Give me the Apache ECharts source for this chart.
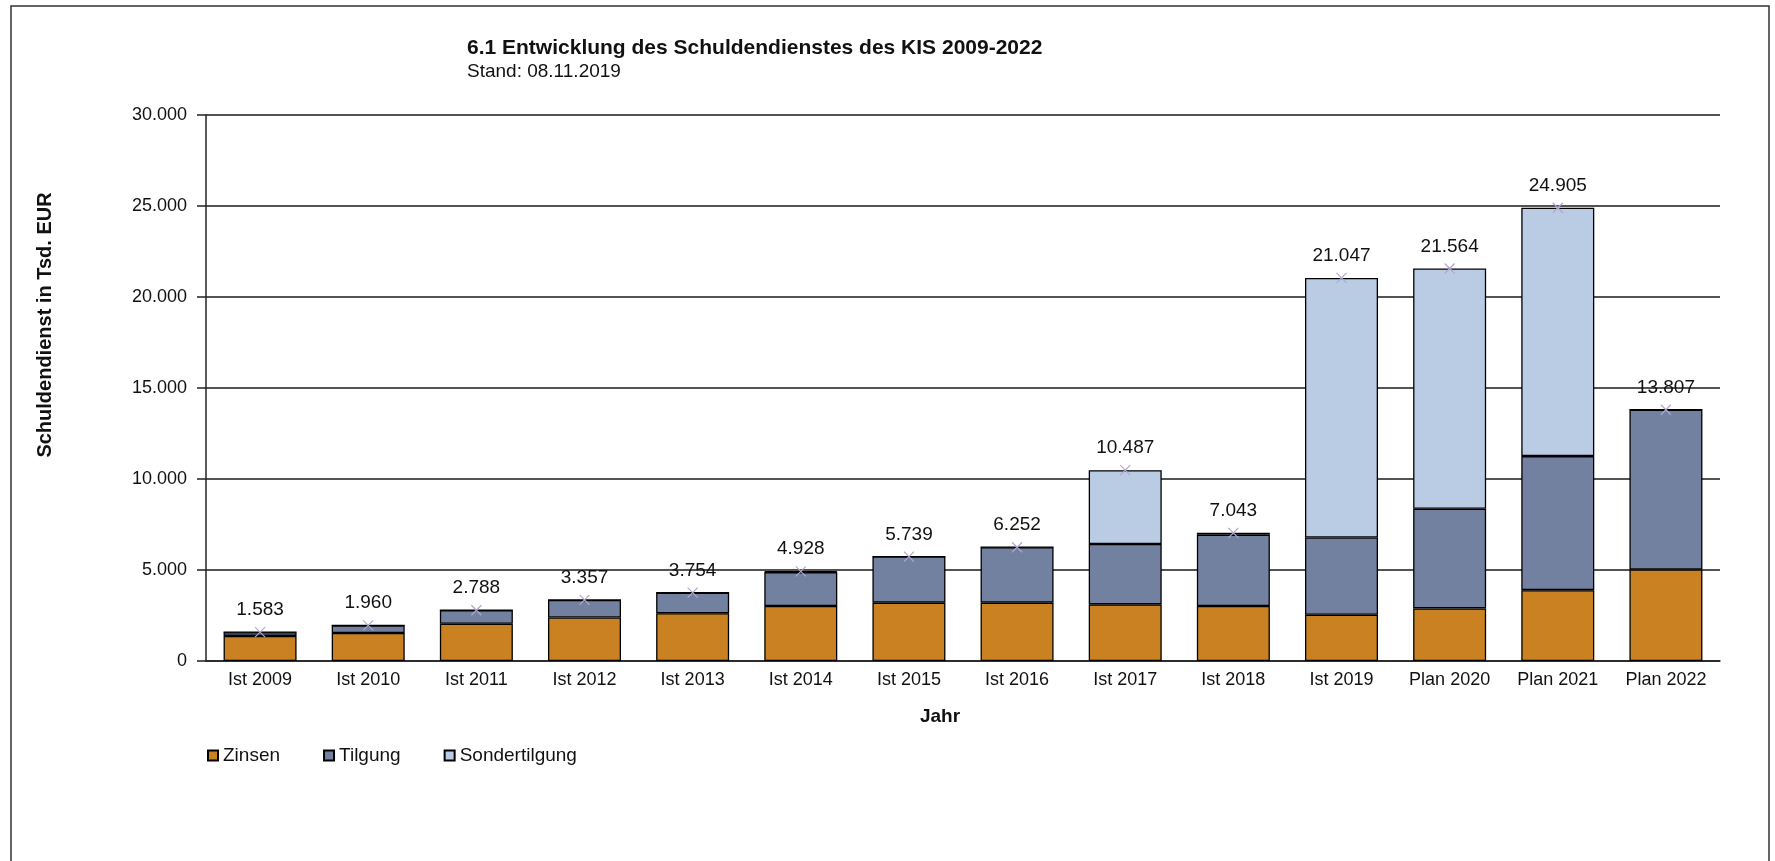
<!DOCTYPE html>
<html>
<head>
<meta charset="utf-8">
<script src="https://cdn.jsdelivr.net/npm/echarts@6/dist/echarts.min.js"></script>
<style>
    html, body { margin: 0; padding: 0; background: #fff; }
    #chart { width: 1775px; height: 861px; }
</style>
</head>
<body>
<div id="chart"></div>
<script>
var categories = ['Ist 2009', 'Ist 2010', 'Ist 2011', 'Ist 2012', 'Ist 2013', 'Ist 2014', 'Ist 2015',
    'Ist 2016', 'Ist 2017', 'Ist 2018', 'Ist 2019', 'Plan 2020', 'Plan 2021', 'Plan 2022'];
var zinsen = [1380, 1540, 2047, 2391, 2627, 3025, 3205, 3205, 3114, 3022, 2544, 2891, 3894, 5030];
var tilgung = [203, 420, 741, 966, 1127, 1860, 2534, 3047, 3315, 3921, 4241, 5474, 7363, 8777];
var sondertilgung = [0, 0, 0, 0, 0, 43, 0, 0, 4058, 100, 14262, 13199, 13648, 0];
var summe = [1583, 1960, 2788, 3357, 3754, 4928, 5739, 6252, 10487, 7043, 21047, 21564, 24905, 13807];

var FONT = '"Liberation Sans", Arial, sans-serif';

function fmt(v) {
    return String(v).replace(/\B(?=(\d{3})+(?!\d))/g, '.');
}

function barSeries(name, data, color) {
    return {
        name: name,
        type: 'bar',
        stack: 'gesamt',
        barWidth: '67.5%',
        data: data,
        itemStyle: {
            color: color,
            borderColor: '#000',
            borderWidth: 1.3
        }
    };
}

var chartDom = document.getElementById('chart');
var myChart = echarts.init(chartDom);
var option;

option = {
    animation: false,
    textStyle: { fontFamily: FONT },
    title: {
        text: '6.1 Entwicklung des Schuldendienstes des KIS 2009-2022',
        subtext: 'Stand: 08.11.2019',
        left: 467,
        top: 38,
        padding: 0,
        itemGap: 3,
        textStyle: { fontFamily: FONT, fontSize: 21, fontWeight: 'bold', color: '#111' },
        subtextStyle: { fontFamily: FONT, fontSize: 19, color: '#111' }
    },
    legend: {
        data: ['Zinsen', 'Tilgung', 'Sondertilgung'],
        left: 207,
        top: 746,
        padding: 0,
        icon: 'rect',
        itemWidth: 10,
        itemHeight: 10,
        itemGap: 43,
        textStyle: { fontFamily: FONT, fontSize: 19, color: '#111' }
    },
    grid: {
        left: 206,
        right: 55,
        top: 115,
        bottom: 200,
        containLabel: false
    },
    xAxis: {
        type: 'category',
        data: categories,
        axisLine: { lineStyle: { color: '#222', width: 1.5 } },
        axisTick: { length: 5, lineStyle: { color: '#222', width: 1.5 } },
        axisLabel: { fontFamily: FONT, fontSize: 18, color: '#111', margin: 10 }
    },
    yAxis: {
        type: 'value',
        min: 0,
        max: 30000,
        interval: 5000,
        axisLine: { show: true, lineStyle: { color: '#222', width: 1.5 } },
        axisTick: { show: true, length: 9, lineStyle: { color: '#222', width: 1.5 } },
        axisLabel: { fontFamily: FONT, fontSize: 18, color: '#111', margin: 19, formatter: fmt },
        splitLine: { lineStyle: { color: '#1a1a1a', width: 1.5 } }
    },
    graphic: [
        {
            type: 'rect',
            shape: { x: 11, y: 6, width: 1758, height: 900 },
            style: { fill: 'none', stroke: '#333', lineWidth: 1.5 },
            silent: true
        },
        {
            type: 'text',
            x: 45,
            y: 325,
            rotation: Math.PI / 2,
            style: {
                text: 'Schuldendienst in Tsd. EUR',
                fontFamily: FONT,
                fontSize: 20,
                fontWeight: 'bold',
                fill: '#111',
                textAlign: 'center',
                textVerticalAlign: 'middle'
            }
        },
        {
            type: 'text',
            x: 940,
            y: 717,
            style: {
                text: 'Jahr',
                fontFamily: FONT,
                fontSize: 19,
                fontWeight: 'bold',
                fill: '#111',
                textAlign: 'center',
                textVerticalAlign: 'middle'
            }
        }
    ],
    series: [
        barSeries('Zinsen', zinsen, '#c98121'),
        barSeries('Tilgung', tilgung, '#7281a0'),
        barSeries('Sondertilgung', sondertilgung, '#b9cce4'),
        {
            name: 'Summe',
            type: 'line',
            data: summe,
            z: 5,
            symbol: 'path://M0,0L10,10M0,10L10,0',
            symbolSize: 10,
            lineStyle: { opacity: 0 },
            itemStyle: { color: 'rgba(0,0,0,0)', borderColor: '#b3a6d2', borderWidth: 1.2 },
            label: {
                show: true,
                position: 'top',
                distance: 7,
                fontFamily: FONT,
                fontSize: 19,
                color: '#111',
                formatter: function (p) { return fmt(p.value); }
            }
        }
    ]
};

option && myChart.setOption(option);
</script>
</body>
</html>
